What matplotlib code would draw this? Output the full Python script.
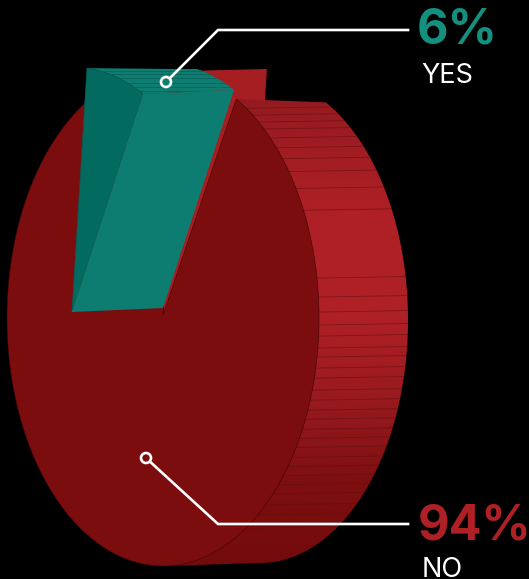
import numpy as np
import matplotlib
matplotlib.use("Agg")
import matplotlib.pyplot as plt
from matplotlib.collections import LineCollection
from matplotlib.colors import LinearSegmentedColormap
from matplotlib.patches import Circle, Polygon

# Survey result
labels = ["YES", "NO"]
shares = [6, 94]

# Pie layout, in pixels
FRONT_APEX = np.array([163.0, 315.0])
FRONT_C = np.array([163.0, 318.0])
FRONT_R = (156.0, 248.0)
OUTER_C = np.array([260.0, 320.0])
OUTER_R = (148.0, 243.0)
BACK_APEX = np.array([252.0, 311.0])
SLICE_APEX = np.array([72.0, 312.0])
SLICE_R = (156.0, 245.0)
DEPTH = np.array([91.0, -4.0])
START_DEG = 5.5
GAP_DEG = 0.9
TOP_CUT = 69.0

RED_DARK = "#7c0d0e"
RED_SIDE = "#a41e22"
TEAL_FACE = "#0e7d71"
TEAL_SIDE = "#026a5e"
TEAL_TEXT = "#13907f"
RED_TEXT = "#ae2025"

# Ribs on the curved side of the pie
rib_y = [107, 114, 121, 128, 137, 147, 158, 171, 188, 210, 278, 297, 312, 325,
         336, 348, 357, 368, 378, 390, 400, 410, 419, 429, 438, 447, 457, 466,
         475, 484, 493, 504, 514, 527]
teal_rib_y = [71, 74, 78, 83, 87, 91, 95]


def arc(center, radii, deg_from, deg_to, n=160):
    # angles run clockwise from twelve o'clock
    t = np.radians(np.linspace(deg_from, deg_to, n))
    return np.column_stack([center[0] + radii[0] * np.sin(t),
                            center[1] - radii[1] * np.cos(t)])


def cut_top(pts, y=TOP_CUT):
    out = pts.copy()
    out[:, 1] = np.maximum(out[:, 1], y)
    return out


slice_sweep = shares[0] / sum(shares) * 360
red_start = START_DEG + slice_sweep + GAP_DEG
red_end = START_DEG + 360

fig = plt.figure(figsize=(5.29, 5.79), dpi=100, facecolor="black")
ax = fig.add_axes([0, 0, 1, 1])

# cut face of the red part, seen through the gap
gap_front = arc(FRONT_C, FRONT_R, START_DEG, START_DEG, 1)[0]
gap_back = arc(BACK_APEX, FRONT_R, START_DEG, START_DEG, 1)[0]
ax.add_patch(Polygon(cut_top(np.array([FRONT_APEX, gap_front, gap_back, BACK_APEX])),
                     fc=RED_SIDE, ec="none", zorder=1))

# curved side with a vertical shade
tip = arc(FRONT_C, FRONT_R, red_start, red_start, 1)
outer = arc(OUTER_C, OUTER_R, red_start - 1.6, 180)
band_pts = np.vstack([outer, [FRONT_C[0], 566.0], FRONT_APEX, tip])
band = Polygon(band_pts, fc="none", ec="none", zorder=2)
ax.add_patch(band)
shade = LinearSegmentedColormap.from_list("side", [
    (0.0, "#941a1f"), (0.24, "#ae2025"), (0.48, "#ae2025"),
    (0.65, "#981a1e"), (0.82, "#7e0f10"), (1.0, "#720b0c")])
img = ax.imshow(np.linspace(0, 1, 256)[:, None], cmap=shade, aspect="auto",
                extent=[0, 529, 566, 95], zorder=2)
img.set_clip_path(band)
ax.set_xlim(0, 529)
ax.set_ylim(579, 0)
ax.axis("off")

ribs = LineCollection([[(235, y + 1.5), (410, y - 1.5)] for y in rib_y],
                      colors="#5e0f12", linewidths=0.6, alpha=0.6, zorder=3)
ax.add_collection(ribs)
ribs.set_clip_path(band)

# front face of the red part
front = arc(FRONT_C, FRONT_R, red_start, red_end, 400)
ax.add_patch(Polygon(cut_top(np.vstack([FRONT_APEX, front])), fc=RED_DARK,
                     ec="#3a0506", lw=0.4, zorder=4))

# pulled out teal slice
slice_arc = arc(SLICE_APEX, SLICE_R, START_DEG, START_DEG + slice_sweep)
moved_arc = slice_arc + DEPTH
top_pts = np.vstack([slice_arc, cut_top(moved_arc)[::-1]])
top = Polygon(top_pts, fc=TEAL_FACE, ec="none", zorder=5)
ax.add_patch(top)
teal_ribs = LineCollection([[(85, y), (240, y)] for y in teal_rib_y],
                           colors="#07594f", linewidths=0.6, alpha=0.7, zorder=5)
ax.add_collection(teal_ribs)
teal_ribs.set_clip_path(top)

ax.add_patch(Polygon(np.vstack([SLICE_APEX, slice_arc]), fc=TEAL_SIDE,
                     ec="#0a5a50", lw=0.5, zorder=6))
face_pts = np.array([SLICE_APEX, SLICE_APEX + DEPTH, moved_arc[-1], slice_arc[-1]])
ax.add_patch(Polygon(face_pts, fc=TEAL_FACE, ec="none", zorder=6))

# leader lines and value labels
font = ["Inter", "DejaVu Sans"]
leaders = [([408, 218, 166], [30, 30, 82], TEAL_FACE),
           ([408, 218, 146], [524, 524, 458], RED_DARK)]
for xs, ys, fill in leaders:
    ax.plot(xs, ys, color="white", lw=1.9, solid_joinstyle="miter", zorder=7)
    ax.add_patch(Circle((xs[-1], ys[-1]), 5, fc=fill, ec="white", lw=1.9, zorder=8))

text_pos = [(417, 43, 83), (418, 540, 577)]
colors = [TEAL_TEXT, RED_TEXT]
for i in range(2):
    x, y_val, y_name = text_pos[i]
    ax.text(x, y_val, f"{shares[i]}%", color=colors[i], fontsize=35, fontweight="bold",
            family=font, va="baseline", ha="left", zorder=9)
    ax.text(x + 4, y_name, labels[i], color="white", fontsize=19.5, fontweight="normal",
            family=font, va="baseline", ha="left", zorder=9)

fig.savefig("out.png", dpi=100, facecolor="black")
